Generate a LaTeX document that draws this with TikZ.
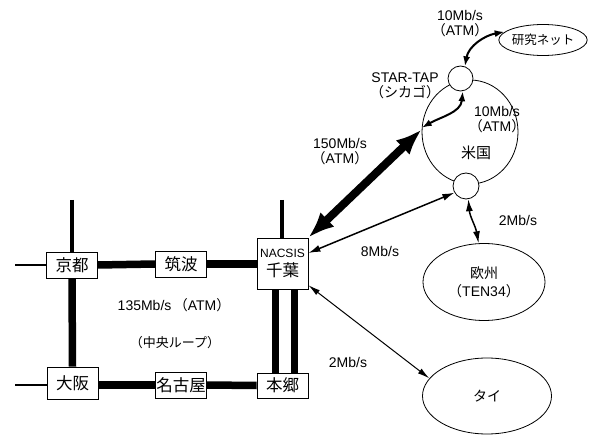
\documentclass[tikz,border=0pt]{standalone}
\usepackage{fontspec}
\setmainfont{Liberation Sans}
\newfontfamily\jp{Noto Sans CJK JP}
\usetikzlibrary{arrows.meta,shapes.geometric}
\tikzset{
  box/.style={draw,line width=0.8pt,fill=white,minimum width=51pt,minimum height=26pt,inner sep=0pt,font=\jp\fontsize{16.5}{18}\selectfont},
  trunk/.style={line width=7.5pt},
  stub/.style={line width=2pt},
  feed/.style={line width=4pt},
  lbl/.style={font=\fontsize{14}{15}\selectfont,align=center,inner sep=0pt},
  jlbl/.style={font=\jp\fontsize{13}{15}\selectfont,align=center,inner sep=0pt},
  cloud/.style={draw,ellipse,line width=0.8pt,inner sep=0pt},
  hub/.style={draw,circle,line width=0.8pt,fill=white,inner sep=0pt},
  curarr/.style={line width=2pt,{Latex[length=10pt,width=7pt]}-{Latex[length=10pt,width=7pt]}},
  fatarr/.style={line width=8pt,{Latex[length=26pt,width=20pt]}-{Latex[length=26pt,width=20pt]}},
  midarr/.style={line width=1.5pt,{Latex[length=12pt,width=7pt]}-{Latex[length=12pt,width=7pt]}},
  thinarr/.style={line width=1pt,{Latex[length=12pt,width=6pt]}-{Latex[length=12pt,width=6pt]}},
}
\begin{document}
\begin{tikzpicture}[x=1pt,y=-1pt]
\useasboundingbox (0,0) rectangle (591,435);
% boxes
\node[box] (kyoto) at (72,265) {京都};
\node[box] (tsukuba) at (181,264) {筑波};
\node[box,minimum height=51pt,align=center] (chiba) at (282.5,263.5) {{\fontspec{Liberation Sans}\fontsize{12}{13}\selectfont NACSIS}\\[1pt]千葉};
\node[box,minimum height=32pt] (osaka) at (72.5,383) {大阪};
\node[box] (nagoya) at (181,385) {名古屋};
\node[box,minimum height=25pt] (hongo) at (282.5,385.5) {本郷};
% stub ends
\coordinate (kl) at (15,265);
\coordinate (ol) at (15,385);
\coordinate (kt) at (72,200);
\coordinate (ct) at (282,200);
% trunk lines
\draw[trunk] (kyoto.east) -- (tsukuba.west);
\draw[trunk] (tsukuba.east) -- (chiba.west |- tsukuba.east);
\draw[trunk] (kyoto.south) -- (osaka.north);
\draw[trunk] (osaka.east |- nagoya.west) -- (nagoya.west);
\draw[trunk] (nagoya.east) -- (hongo.west);
\draw[trunk] ([xshift=-7pt]chiba.south) -- ([xshift=-7pt]hongo.north);
\draw[trunk] ([xshift=12pt]chiba.south) -- ([xshift=12pt]hongo.north);
\draw[stub] (kl) -- (kyoto.west);
\draw[stub] (ol) -- (osaka.west |- ol);
\draw[feed] (kt) -- (kyoto.north);
\draw[feed] (ct) -- (chiba.north -| ct);
% loop labels
\node[lbl] (l135) at (174,305) {135Mb/s\,{\jp （}ATM{\jp ）}};
\node[jlbl] (lloop) at (175,343) {（中央ループ）};
% right-hand networks
\node[cloud,minimum width=96pt,minimum height=104pt] (us) at (470,132) {};
\node[hub,minimum size=25pt] (star) at (460.5,78.5) {};
\node[hub,minimum size=26pt] (lc) at (466,186) {};
\node[cloud,minimum width=75pt,minimum height=31pt,font=\jp\fontsize{12.5}{14}\selectfont] (ken) at (543,40) {研究ネット};
\node[cloud,minimum width=122pt,minimum height=77pt,align=center,font=\jp\fontsize{14}{18}\selectfont] (eu) at (484,282) {欧州\\{\jp （}{\fontspec{Liberation Sans}\fontsize{14}{18}\selectfont TEN34}{\jp ）}};
\node[cloud,minimum width=129pt,minimum height=76pt,font=\jp\fontsize{14}{15}\selectfont] (thai) at (487,396) {タイ};
% labels
\node[lbl] (l10a) at (460,24) {10Mb/s\\{\jp （}ATM{\jp ）}};
\node[lbl] (lstar) at (405,86) {STAR-TAP\\{\jp （シカゴ）}};
\node[lbl] (l10b) at (497,120) {10Mb/s\\{\jp （}ATM{\jp ）}};
\node[jlbl,font=\jp\fontsize{15}{16}\selectfont] (lus) at (476,153) {米国};
\node[lbl] (l150) at (340,152) {150Mb/s\\{\jp （}ATM{\jp ）}};
\node[lbl] (l2a) at (518,220) {2Mb/s};
\node[lbl] (l8) at (380,251) {8Mb/s};
\node[lbl] (l2b) at (348,362) {2Mb/s};
% connectors
\draw[curarr] (star.70) to[out=80,in=190] (ken.168);
\draw[curarr] (star.-80) to[out=-95,in=30] (us.175);
\draw[fatarr] (chiba.north east) -- (us.177);
\draw[midarr] (chiba.22) -- (lc.210);
\draw[midarr] (lc.-80) to[out=-85,in=100] (eu.98);
\draw[thinarr] (chiba.-40) -- (thai.163);
\end{tikzpicture}
\end{document}
